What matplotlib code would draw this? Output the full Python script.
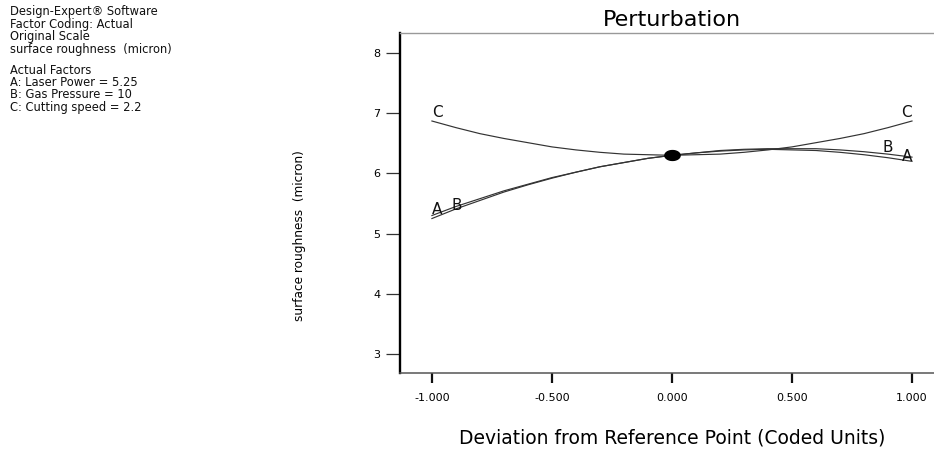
import matplotlib
matplotlib.use("Agg")
import matplotlib.pyplot as plt
from matplotlib.path import Path
import numpy as np

x_coded = [-1.0, -0.9, -0.8, -0.7, -0.6, -0.5, -0.4, -0.3, -0.2, -0.1, 0.0,
           0.1, 0.2, 0.3, 0.4, 0.5, 0.6, 0.7, 0.8, 0.9, 1.0]
y_A = [5.25, 5.41, 5.55, 5.69, 5.81, 5.92, 6.02, 6.11, 6.18, 6.25, 6.30,
       6.34, 6.37, 6.39, 6.40, 6.39, 6.38, 6.35, 6.31, 6.26, 6.20]
y_B = [5.30, 5.45, 5.58, 5.71, 5.82, 5.93, 6.02, 6.11, 6.18, 6.25, 6.30,
       6.34, 6.38, 6.40, 6.41, 6.41, 6.41, 6.39, 6.36, 6.32, 6.27]
y_C = [6.87, 6.76, 6.66, 6.58, 6.51, 6.44, 6.39, 6.35, 6.32, 6.31, 6.30,
       6.31, 6.32, 6.35, 6.39, 6.44, 6.51, 6.58, 6.66, 6.76, 6.87]
ref_x = [0.0]
ref_y = [6.30]

x_ticks = [-1.0, -0.5, 0.0, 0.5, 1.0]
x_tick_labels = ["-1.000", "-0.500", "0.000", "0.500", "1.000"]
y_ticks = [3, 4, 5, 6, 7, 8]

info_lines_1 = ["Design-Expert\u00ae Software", "Factor Coding: Actual",
                "Original Scale", "surface roughness  (micron)"]
info_lines_2 = ["Actual Factors", "A: Laser Power = 5.25",
                "B: Gas Pressure = 10", "C: Cutting speed = 2.2"]

plt.rcParams['font.family'] = ['DejaVu Sans']

W, H = 934, 449
fig = plt.figure(figsize=(W / 100, H / 100), dpi=100)
ax = fig.add_axes([400 / W, 76 / H, 560 / W, 340 / H])

for ys in (y_A, y_B, y_C):
    ax.plot(x_coded, ys, color='#333333', lw=0.85)

# horizontally stretched dot, as in the reference
t = np.linspace(0, 2 * np.pi, 40)
ell = Path(np.column_stack([1.55 * np.cos(t), np.sin(t)]))
ax.plot(ref_x, ref_y, linestyle='none', marker=ell, color='black', ms=11)

ax.set_xlim(-1.133, 1.20)
ax.set_ylim(2.684, 8.332)
ax.set_xticks(x_ticks)
ax.set_xticklabels(x_tick_labels)
ax.set_yticks(y_ticks)
ax.tick_params(axis='x', direction='out', length=7.5, width=1.6, labelsize=8,
               pad=7, color='#111111')
ax.tick_params(axis='y', direction='out', length=10, width=0.9, labelsize=8,
               pad=4, color='#333333')
ax.spines['right'].set_visible(False)
ax.spines['top'].set_color('#999999')
ax.spines['top'].set_linewidth(1.0)
ax.spines['bottom'].set_color('#555555')
ax.spines['bottom'].set_linewidth(1.1)
ax.spines['left'].set_color('black')
ax.spines['left'].set_linewidth(1.7)

fig.text(672 / W, 1 - 20 / H, "Perturbation", ha='center', va='center', fontsize=16)
fig.text(672 / W, 1 - 438 / H, "Deviation from Reference Point (Coded Units)",
         ha='center', va='center', fontsize=13.5)
fig.text(300 / W, 1 - 236 / H, "surface roughness  (micron)", rotation=90,
         ha='center', va='center', fontsize=8.7)

lab_kw = dict(fontsize=11, va='center', color='#111111')
ax.text(-1.0, 7.01, "C", ha='left', **lab_kw)
ax.text(-1.0, 5.40, "A", ha='left', **lab_kw)
ax.text(-0.917, 5.47, "B", ha='left', **lab_kw)
ax.text(1.0, 7.01, "C", ha='right', **lab_kw)
ax.text(0.92, 6.43, "B", ha='right', **lab_kw)
ax.text(1.0, 6.28, "A", ha='right', **lab_kw)

for i, s in enumerate(info_lines_1):
    fig.text(10 / W, 1 - (12 + i * 12.4) / H, s, fontsize=8.3, va='center', color='#111111')
for i, s in enumerate(info_lines_2):
    fig.text(10 / W, 1 - (70 + i * 12.4) / H, s, fontsize=8.3, va='center', color='#111111')

fig.savefig("out.png", dpi=100)
